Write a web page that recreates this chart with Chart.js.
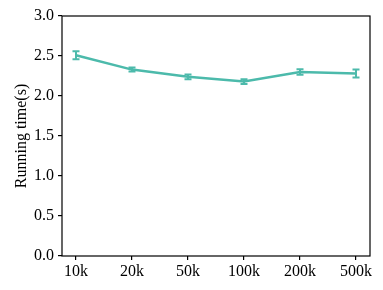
<!DOCTYPE html>
<html>
<head>
<meta charset="utf-8">
<script src="https://cdn.jsdelivr.net/npm/chart.js@4"></script>
<style>
  body { margin: 0; background: #fff; }
  #wrap { width: 383px; height: 290px; }
</style>
</head>
<body>
<div id="wrap"><canvas id="myChart" width="383" height="290"></canvas></div>
<script>
// data
var sizes = ["10k", "20k", "50k", "100k", "200k", "500k"];
var runTimes = [2.51, 2.33, 2.24, 2.18, 2.30, 2.28];
var runErr = [0.05, 0.025, 0.03, 0.03, 0.035, 0.05];
var yTicks = [0, 0.5, 1.0, 1.5, 2.0, 2.5, 3.0];

var teal = "#4cbaab";
var font = { family: "'Liberation Serif', 'Times New Roman', serif", size: 16 };

// error bars + box around plot
var errorBars = {
    id: "errorBars",
    afterDatasetsDraw: function(chart){
        var ctx = chart.ctx;
        var xs = chart.scales.x, ys = chart.scales.y;
        ctx.save();
        ctx.strokeStyle = teal;
        ctx.lineWidth = 2;
        for(var i = 0; i < runTimes.length; i++){
            var px = xs.getPixelForValue(i);
            var top = ys.getPixelForValue(runTimes[i] + runErr[i]);
            var bot = ys.getPixelForValue(runTimes[i] - runErr[i]);
            ctx.beginPath();
            ctx.moveTo(px, top); ctx.lineTo(px, bot);
            ctx.moveTo(px - 3.5, top); ctx.lineTo(px + 3.5, top);
            ctx.moveTo(px - 3.5, bot); ctx.lineTo(px + 3.5, bot);
            ctx.stroke();
        }
        var a = chart.chartArea;
        ctx.strokeStyle = "#000";
        ctx.lineWidth = 1.2;
        ctx.strokeRect(a.left, a.top, a.right - a.left, a.bottom - a.top);
        ctx.restore();
    }
};

new Chart(document.getElementById("myChart"), {
    type: "line",
    data: {
        datasets: [{
            data: runTimes.map(function(v, i){ return { x: i, y: v }; }),
            borderColor: teal,
            backgroundColor: teal,
            borderWidth: 2.5,
            pointRadius: 0,
            tension: 0
        }]
    },
    options: {
        responsive: false,
        animation: false,
        layout: { padding: { left: 0, top: 16, right: 13, bottom: 0 } },
        plugins: { legend: { display: false }, tooltip: { enabled: false } },
        scales: {
            x: {
                type: "linear",
                min: -0.25,
                max: sizes.length - 0.75,
                afterBuildTicks: function(scale){
                    scale.ticks = sizes.map(function(s, i){ return { value: i }; });
                },
                afterFit: function(scale){ scale.height = 34; },
                ticks: {
                    color: "#000",
                    font: font,
                    padding: 2,
                    maxRotation: 0,
                    callback: function(v){ return sizes[v]; }
                },
                grid: { drawOnChartArea: false, drawTicks: true, tickLength: 4, color: "#000", lineWidth: 1.2 },
                border: { display: false }
            },
            y: {
                min: 0,
                max: 3,
                afterBuildTicks: function(scale){
                    scale.ticks = yTicks.map(function(v){ return { value: v }; });
                },
                afterFit: function(scale){ scale.width = 62; },
                ticks: {
                    color: "#000",
                    font: font,
                    padding: 4,
                    callback: function(v){ return v.toFixed(1); }
                },
                title: {
                    display: true,
                    text: "Running time(s)",
                    color: "#000",
                    font: font,
                    padding: { top: 12, bottom: 0 }
                },
                grid: { drawOnChartArea: false, drawTicks: true, tickLength: 4, color: "#000", lineWidth: 1.2 },
                border: { display: false }
            }
        }
    },
    plugins: [errorBars]
});
</script>
</body>
</html>
